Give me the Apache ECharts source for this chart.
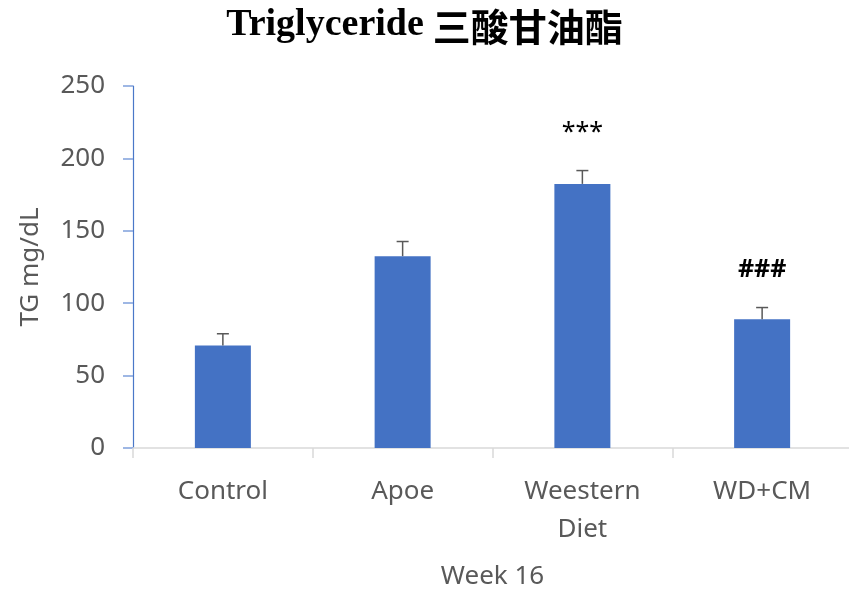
<!DOCTYPE html>
<html>
<head>
<meta charset="utf-8">
<title>Triglyceride</title>
<script src="https://cdn.jsdelivr.net/npm/echarts/dist/echarts.min.js"></script>
<style>
  html, body { margin: 0; padding: 0; background: #fff; }
  #chart { width: 849px; height: 592px; }
</style>
</head>
<body>
<div id="chart"></div>
<script>
// values
const categories = ['Control', 'Apoe', 'Weestern\nDiet', 'WD+CM']
const tgMeans = [70.8, 132.5, 182.4, 89]
const tgErrors = [8.1, 10.1, 9.2, 8]
const sigMarks = ['', '', '***', '###']
const yTicks = { min: 0, max: 250, step: 50 }

const axisText = '#595959'
const barColor = '#4472C4'
const labelFont = '"Noto Sans", "Open Sans", sans-serif'

const chart = echarts.init(document.getElementById('chart'))

const errorData = categories.map((c, i) => [i, tgMeans[i], tgErrors[i]])

const renderErrorBar = (params, api) => {
  const idx = api.value(0)
  const mean = api.value(1)
  const err = api.value(2)
  const mark = sigMarks[idx]
  const base = api.coord([idx, mean])
  const top = api.coord([idx, mean + err])
  const half = 6
  const lineStyle = { stroke: '#595959', lineWidth: 1.5 }
  const children = [
    { type: 'line', shape: { x1: base[0], y1: base[1], x2: top[0], y2: top[1] }, style: lineStyle },
    { type: 'line', shape: { x1: top[0] - half, y1: top[1], x2: top[0] + half, y2: top[1] }, style: lineStyle }
  ]
  if (mark) {
    children.push({
      type: 'text',
      style: {
        text: mark,
        x: top[0],
        y: top[1] - 38,
        align: 'center',
        verticalAlign: 'middle',
        font: (mark === '###' ? 'bold ' : '') + '25px ' + labelFont,
        fill: '#000'
      }
    })
  }
  return { type: 'group', children }
}

const option = {
  animation: false,
  backgroundColor: '#fff',
  title: {
    text: '{a|Triglyceride} {b|三酸甘油酯}',
    left: 'center',
    top: 0,
    textStyle: {
      rich: {
        a: { fontFamily: '"Liberation Serif", "DejaVu Serif", serif', fontWeight: 'bold', fontSize: 38, color: '#000' },
        b: { fontFamily: '"Noto Sans CJK TC", sans-serif', fontWeight: 'bold', fontSize: 38, color: '#000', padding: [3, 0, 0, 4] }
      }
    }
  },
  grid: { left: 133, right: -3, top: 86, bottom: 144, outerBoundsMode: 'none' },
  xAxis: {
    type: 'category',
    data: categories,
    name: 'Week 16',
    nameLocation: 'middle',
    nameGap: 116,
    nameTextStyle: { color: axisText, fontSize: 26, fontFamily: labelFont },
    axisLine: { lineStyle: { color: '#d9d9d9', width: 1.5 } },
    axisTick: { show: true, length: 10, lineStyle: { color: '#d9d9d9', width: 1.5 } },
    axisLabel: { color: axisText, fontSize: 26, fontFamily: labelFont, lineHeight: 38, margin: 25, interval: 0 }
  },
  yAxis: {
    type: 'value',
    min: yTicks.min,
    max: yTicks.max,
    interval: yTicks.step,
    name: 'TG mg/dL',
    nameLocation: 'middle',
    nameGap: 89,
    nameTextStyle: { color: axisText, fontSize: 26, fontFamily: labelFont },
    splitLine: { show: false },
    axisLine: { show: true, lineStyle: { color: '#4a78c8', width: 1.2 } },
    axisTick: { show: true, length: 10, lineStyle: { color: '#7fa0dc', width: 1.5 } },
    axisLabel: { color: axisText, fontSize: 26, fontFamily: labelFont, margin: 28 }
  },
  series: [
    {
      name: 'TG',
      type: 'bar',
      data: tgMeans,
      barWidth: 56,
      itemStyle: { color: barColor }
    },
    {
      name: 'error',
      type: 'custom',
      data: errorData,
      renderItem: renderErrorBar,
      encode: { x: 0, y: 1 },
      z: 5
    }
  ]
}

chart.setOption(option)
</script>
</body>
</html>
